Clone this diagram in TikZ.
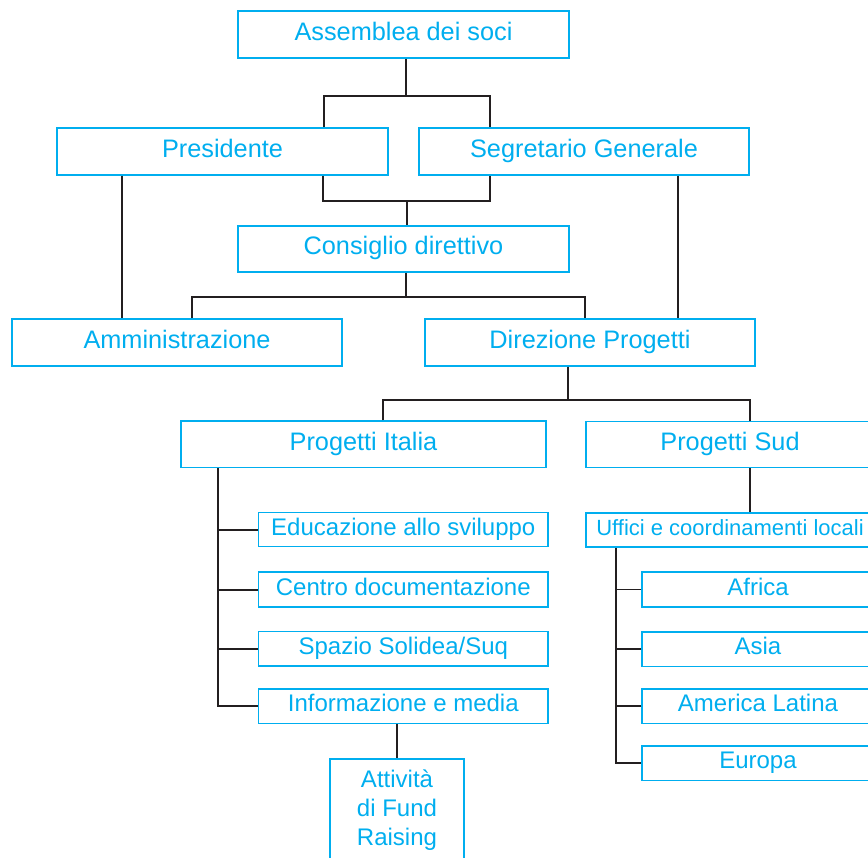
\documentclass[tikz,border=0pt]{standalone}
\usepackage{fontspec}
\setmainfont{Liberation Sans}
\usepackage{tikz}
\usetikzlibrary{positioning}
\definecolor{orgcyan}{RGB}{0,174,239}
\definecolor{orgline}{RGB}{35,31,32}
\tikzset{
  orgbox/.style={draw=orgcyan,line width=1.5pt,text=orgcyan,inner sep=0pt,
    text height=18.3pt,text depth=6.5pt,font=\fontsize{25.3}{30}\selectfont},
  subbox/.style={orgbox,text height=17.6pt,text depth=6.4pt,font=\fontsize{24}{29}\selectfont},
  orglink/.style={draw=orgline,line width=1.8pt}
}
\begin{document}
\begin{tikzpicture}[x=1pt,y=-1pt]
\useasboundingbox (0,0) rectangle (868,858);
\node[orgbox,minimum width=331pt,minimum height=47pt] (Assemblea) at (403.5,34.5) {Assemblea dei soci};
\node[orgbox,minimum width=331pt,minimum height=47pt] (Presidente) at (222.5,151.5) {Presidente};
\node[orgbox,minimum width=330pt,minimum height=47pt] (Segretario) at (584,151.5) {Segretario Generale};
\node[orgbox,minimum width=331pt,minimum height=46pt] (Consiglio) at (403.5,249) {Consiglio direttivo};
\node[orgbox,minimum width=330pt,minimum height=47pt] (Amministrazione) at (177,342.5) {Amministrazione};
\node[orgbox,minimum width=330pt,minimum height=47pt] (Direzione) at (590,342.5) {Direzione Progetti};
\node[orgbox,minimum width=365pt,minimum height=46.5pt] (Italia) at (363.5,444.3) {Progetti Italia};
\node[orgbox,minimum width=288pt,minimum height=46pt] (Sud) at (730,444.5) {Progetti Sud};
\node[orgbox,text height=16pt,text depth=5.8pt,font=\fontsize{22}{26}\selectfont,minimum width=288pt,minimum height=34pt] (Uffici) at (730,530) {Uffici e coordinamenti locali};
\node[subbox,minimum width=289.5pt,minimum height=34pt] (Educazione) at (403.3,529.7) {Educazione allo sviluppo};
\node[subbox,minimum width=289.5pt,minimum height=35pt] (Centro) at (403.3,589.7) {Centro documentazione};
\node[subbox,minimum width=289.5pt,minimum height=34.5pt] (Spazio) at (403.3,648.8) {Spazio Solidea/Suq};
\node[subbox,minimum width=289.5pt,minimum height=34.5pt] (Informazione) at (403.3,706) {Informazione e media};
\node[subbox,minimum width=232pt,minimum height=35pt] (Africa) at (758,589.5) {Africa};
\node[subbox,minimum width=232pt,minimum height=34.5pt] (Asia) at (758,649) {Asia};
\node[subbox,minimum width=232pt,minimum height=34.5pt] (America) at (758,706) {America Latina};
\node[subbox,minimum width=232pt,minimum height=34.5pt] (Europa) at (758,763) {Europa};
\node[subbox,align=center,text height=,text depth=,minimum width=134pt,minimum height=103pt] (Attivita) at (397,810.5) {Attività\\di Fund\\Raising};
\coordinate (busA) at (406,96);
\coordinate (busB) at (407,201);
\coordinate (busC) at (406,297);
\coordinate (busD) at (568,400);
\path[orglink]
(Assemblea.south -| busA) -- (busA)
(Presidente.north -| 324,0) |- (busA) -| (Segretario.north -| 490,0)
(Presidente.south -| 323,0) |- (busB) -| (Segretario.south -| 490,0)
(busB) -- (Consiglio.north -| busB)
(Presidente.south -| 122,0) -- (Amministrazione.north -| 122,0)
(Consiglio.south -| busC) -- (busC)
(Amministrazione.north -| 192,0) |- (busC) -| (Direzione.north -| 585,0)
(Segretario.south -| 678,0) -- (Direzione.north -| 678,0)
(Direzione.south -| busD) -- (busD)
(Italia.north -| 383,0) |- (busD) -| (Sud.north -| 750,0)
(Sud.south -| 750,0) -- (Uffici.north -| 750,0)
(Italia.south -| 218,0) |- (Informazione.west)
(Uffici.south -| 616,0) |- (Europa.west)
(Attivita.north |- Informazione.south) -- (Attivita.north);
\foreach \n in {Educazione,Centro,Spazio}
  \draw[orglink] (\n.west) -- (\n.west -| 218,0);
\foreach \n in {Africa,Asia,America}
  \draw[orglink] (\n.west) -- (\n.west -| 616,0);
\end{tikzpicture}
\end{document}
